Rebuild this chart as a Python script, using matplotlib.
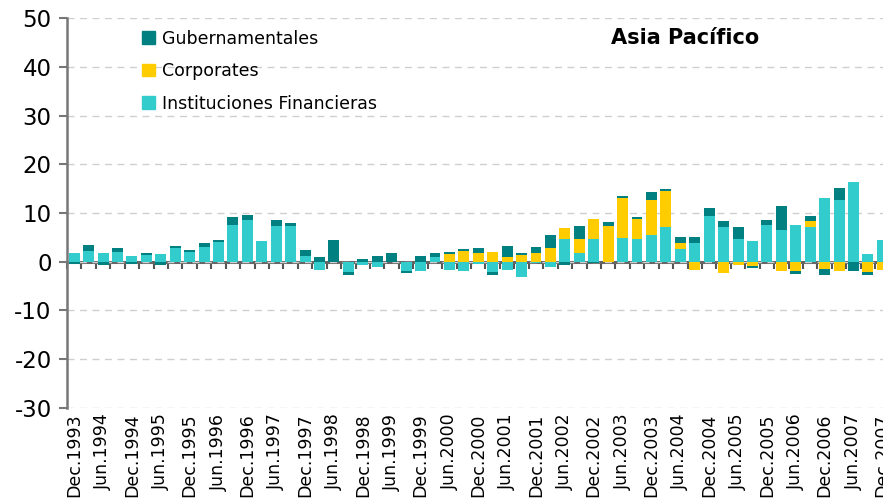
import numpy as np
import matplotlib
matplotlib.use("Agg")
import matplotlib.pyplot as plt
from matplotlib.patches import Patch

# -- Data (quarterly, Dec.1993 .. Dec.2007) ------------------------
tick_labels = ["Dec.1993", "Jun.1994", "Dec.1994", "Jun.1995", "Dec.1995",
               "Jun.1996", "Dec.1996", "Jun.1997", "Dec.1997", "Jun.1998",
               "Dec.1998", "Jun.1999", "Dec.1999", "Jun.2000", "Dec.2000",
               "Jun.2001", "Dec.2001", "Jun.2002", "Dec.2002", "Jun.2003",
               "Dec.2003", "Jun.2004", "Dec.2004", "Jun.2005", "Dec.2005",
               "Jun.2006", "Dec.2006", "Jun.2007", "Dec.2007"]

financieras = [1.8, 2.2, 1.8, 2.0, 1.2, 1.4, 1.6, 2.9, 2.0, 3.1,
               4.1, 7.5, 8.5, 4.3, 7.3, 7.3, 1.2, -1.7, 0.0, -2.2,
               -0.7, -1.1, 0.0, -2.0, -2.0, 1.0, -1.7, -2.0, -0.4, -2.1,
               -1.7, -3.2, -0.2, -1.1, 4.7, 1.8, 4.7, 0.0, 4.9, 4.7,
               5.5, 7.1, 2.6, 3.9, 9.4, 7.1, 4.7, 4.2, 7.5, 6.5,
               7.5, 7.1, 13.0, 12.7, 16.3, 1.6, 4.5]

corporates = [0.0, 0.0, 0.0, 0.0, 0.0, 0.0, 0.0, 0.0, 0.0, 0.0,
              0.0, 0.0, 0.0, 0.0, 0.0, 0.0, 0.0, 0.0, 0.0, 0.0,
              0.0, 0.0, 0.0, 0.0, 0.0, 0.0, 1.6, 2.2, 1.8, 2.0,
              1.0, 1.4, 1.8, 2.8, 2.2, 2.9, 4.1, 7.3, 8.2, 4.1,
              7.2, 7.4, 1.2, -1.7, 0.0, -2.3, -0.7, -0.9, 0.0, -1.9,
              -1.9, 1.2, -1.5, -1.9, 0.0, -2.1, -1.7]

gubernamentales = [-0.4, 1.3, -0.6, 0.9, -0.4, 0.4, -0.6, 0.4, 0.4, 0.8,
                   0.4, 1.7, 1.1, 0.0, 1.2, 0.6, 1.2, 1.0, 4.5, -0.6,
                   0.6, 1.2, 1.8, -0.4, 1.2, 0.8, 0.4, 0.5, 1.0, -0.6,
                   2.2, 0.4, 1.2, 2.7, -0.7, 2.6, -0.3, 0.9, 0.4, 0.4,
                   1.6, 0.4, 1.3, 1.2, 1.7, 1.3, 2.4, -0.4, 1.0, 5.0,
                   -0.6, 1.0, -1.2, 2.5, -1.9, -0.6, 0.0]

series = [("Instituciones Financieras", financieras, "#33CCCC"),
          ("Corporates", corporates, "#FFCC00"),
          ("Gubernamentales", gubernamentales, "#008080")]

# -- Figure -----------------------------------------------------------
plt.rcParams["font.family"] = ["DejaVu Sans"]
plt.rcParams["axes.unicode_minus"] = False
fig = plt.figure(figsize=(8.83, 5.03), dpi=100)
ax = fig.add_axes([0.0759, 0.1889, 0.9315, 0.7753])

n = len(financieras)
x = np.arange(n)
pos_base = np.zeros(n)
neg_base = np.zeros(n)
for name, vals, col in series:
    v = np.array(vals)
    base = np.where(v >= 0, pos_base, neg_base)
    ax.bar(x, v, bottom=base, width=0.76, color=col, linewidth=0, zorder=3)
    pos_base += np.clip(v, 0, None)
    neg_base += np.clip(v, None, 0)

ax.set_xlim(-0.5, n - 0.5)
ax.set_ylim(-30, 50)
ax.set_yticks(range(-30, 51, 10))
ax.tick_params(axis="y", labelsize=16.5, length=6, width=1.5, color="#777777",
               pad=5)
ax.yaxis.grid(True, linestyle=(0, (5, 4)), color="#cfcfcf", linewidth=1.0)
ax.set_axisbelow(True)

# category labels along the bottom, every other quarter
ax.set_xticks(x[::2])
ax.set_xticklabels(tick_labels, rotation=90, fontsize=12.5, va="top")
ax.tick_params(axis="x", length=0, pad=4)

for s in ["top", "right", "bottom"]:
    ax.spines[s].set_visible(False)
ax.spines["left"].set_color("#777777")
ax.spines["left"].set_linewidth(1.8)

# zero axis with category tick marks
zaxis = ax.secondary_xaxis(30 / 80)
zaxis.set_xticks(np.arange(-0.5, n, 1.0))
zaxis.set_xticklabels([])
zaxis.tick_params(length=5, width=1.5, color="#555555", direction="out")
zaxis.spines["bottom"].set_color("#666666")
zaxis.spines["bottom"].set_linewidth(2.2)
zaxis.spines["bottom"].set_zorder(5)

handles = [Patch(color=c, label=nm) for nm, _, c in series[::-1]]
ax.legend(handles=handles, loc="upper left", bbox_to_anchor=(0.072, 1.01),
          frameon=False, fontsize=12.5, handlelength=0.75, handleheight=0.75,
          handletextpad=0.4, labelspacing=0.83)

ax.text(0.751, 0.949, "Asia Pacífico", transform=ax.transAxes,
        fontsize=15, fontweight="bold", ha="center", va="center")

plt.savefig("out.png", dpi=100)
plt.close()
